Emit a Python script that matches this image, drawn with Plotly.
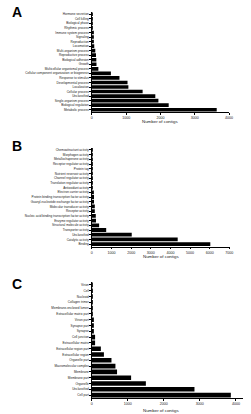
import plotly.graph_objects as go

W, H = 251, 414

# Panel A: Biological process (top to bottom)
a_categories = ["Hormone secretion", "Cell killing", "Biological phase", "Rhythmic process",
                "Immune system process", "Signaling", "Reproduction", "Locomotion",
                "Multi-organism process", "Reproductive process", "Biological adhesion", "Growth",
                "Multicellular organismal process", "Cellular component organization or biogenesis",
                "Response to stimulus", "Developmental process", "Localization", "Cellular process",
                "Unclassified", "Single-organism process", "Biological regulation", "Metabolic process"]
a_values = [3, 5, 10, 20, 35, 40, 45, 70, 100, 120, 130, 135, 190, 555,
            805, 1040, 1065, 1480, 1850, 1940, 2240, 3640]

# Panel B: Molecular function
b_categories = ["Chemoattractant activity", "Morphogen activity", "Metallochaperone activity",
                "Receptor regulator activity", "Protein tag", "Nutrient reservoir activity",
                "Channel regulator activity", "Translation regulator activity", "Antioxidant activity",
                "Electron carrier activity", "Protein binding transcription factor activity",
                "Guanyl-nucleotide exchange factor activity", "Molecular transducer activity",
                "Receptor activity", "Nucleic acid binding transcription factor activity",
                "Enzyme regulator activity", "Structural molecule activity", "Transporter activity",
                "Unclassified", "Catalytic activity", "Binding"]
b_values = [2, 3, 5, 8, 10, 15, 20, 30, 50, 90, 110, 110, 150, 150, 200, 210, 370, 730,
            2030, 4370, 6030]

# Panel C: Cellular component
c_categories = ["Virion", "Cell", "Nucleoid", "Collagen trimer", "Membrane-enclosed lumen",
                "Extracellular matrix part", "Virion part", "Synapse part", "Synapse", "Cell junction",
                "Extracellular matrix", "Extracellular region part", "Extracellular region",
                "Organelle part", "Macromolecular complex", "Membrane", "Membrane part", "Organelle",
                "Unclassified", "Cell part"]
c_values = [1, 2, 3, 5, 10, 15, 30, 40, 45, 90, 90, 250, 335, 545, 655, 700, 1090, 1500,
            2850, 3860]

x_title = "Number of contigs"
panel_letters = ["A", "B", "C"]

FONT = "Liberation Sans, Arial, sans-serif"

def px_x(p):
    return p / W

def px_y(p):
    return 1 - p / H

panels = [
    (a_categories, a_values, [0, 4000], (92.7, 232.7), (12, 112), 122, 11.5),
    (b_categories, b_values, [0, 7000], (92.7, 233), (147.5, 246.5), 256, 146),
    (c_categories, c_values, [0, 4200], (92.7, 247), (282, 398), 410.5, 284),
]

fig = go.Figure()
annotations = []
for i, (cats, vals, rng, (x0, x1), (yt, yb), title_y, letter_y) in enumerate(panels):
    n = i + 1
    xa = "x" if n == 1 else f"x{n}"
    ya = "y" if n == 1 else f"y{n}"
    fig.add_trace(go.Bar(
        x=vals, y=cats, orientation="h", xaxis=xa, yaxis=ya,
        marker=dict(color="black", line=dict(width=0)), showlegend=False,
    ))
    xkey = "xaxis" if n == 1 else f"xaxis{n}"
    ykey = "yaxis" if n == 1 else f"yaxis{n}"
    fig.layout[xkey] = dict(
        domain=[px_x(x0), px_x(x1)], range=rng, anchor=ya, dtick=1000,
        showgrid=False, zeroline=False, showline=True, linecolor="black", linewidth=0.8,
        ticks="outside", ticklen=2, tickwidth=0.6, tickcolor="black",
        tickfont=dict(size=3.6, color="#222", family=FONT),
    )
    fig.layout[ykey] = dict(
        domain=[px_y(yb), px_y(yt)], anchor=xa, autorange="reversed", type="category",
        showgrid=False, zeroline=False, showline=True, linecolor="black", linewidth=0.8,
        ticks="outside", ticklen=1.5, tickwidth=0.5, tickcolor="black",
        tickfont=dict(size=3.1, color="#222", family=FONT),
    )
    annotations.append(dict(
        text=x_title, xref="paper", yref="paper",
        x=px_x(x0 + (min(x1, 233) - x0) / 2), y=px_y(title_y),
        showarrow=False, xanchor="center", yanchor="middle",
        font=dict(size=4.4, color="#222", family=FONT),
    ))
    annotations.append(dict(
        text=f"<b>{panel_letters[i]}</b>", xref="paper", yref="paper",
        x=px_x(9), y=px_y(letter_y), showarrow=False, xanchor="left", yanchor="middle",
        font=dict(size=14, color="black", family=FONT),
    ))

fig.update_layout(
    width=W, height=H, margin=dict(l=0, r=0, t=0, b=0),
    paper_bgcolor="white", plot_bgcolor="white",
    bargap=0.2, annotations=annotations,
    font=dict(family=FONT),
)

fig.write_html("out.html")
